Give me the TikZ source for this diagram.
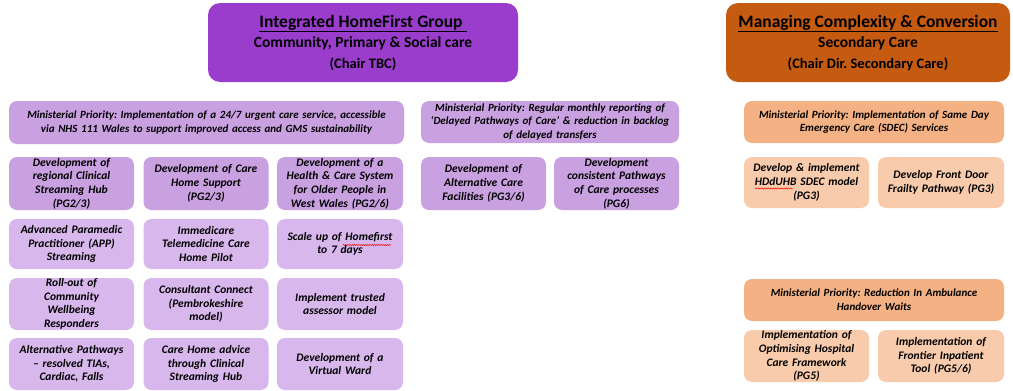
\documentclass[tikz,border=0pt]{standalone}
\usepackage{fontspec}
\usetikzlibrary{decorations.pathmorphing}
\setmainfont{Carlito}
\frenchspacing
\newcommand{\hdrA}[1]{{\fontsize{17.5}{20}\selectfont\underline{#1}}}
\newcommand{\hdrB}[1]{{\fontsize{15.5}{20}\selectfont #1}}
\newcommand{\hdrC}[1]{{\fontsize{14.5}{20}\selectfont #1}}
\begin{document}
\begin{tikzpicture}[x=1pt,y=-1pt,
  base/.style={align=center, inner sep=0pt, text=black},
  hdr/.style={base, rounded corners=12pt, minimum height=79pt,
    font=\bfseries\fontsize{15.5}{20.5}\selectfont},
  mp/.style={base, rounded corners=8pt, minimum height=42pt,
    font=\bfseries\itshape\fontsize{11}{13.7}\selectfont},
  tile/.style={base, rounded corners=8pt, minimum width=125pt,
    text width=122pt, font=\bfseries\itshape\fontsize{11.5}{13.7}\selectfont},
  squiggle/.style={draw=red, line width=0.45pt, decorate,
    decoration={snake, amplitude=0.6pt, segment length=2.2pt}},
  hpurple/.style={fill=hfPurple},
  mpurple/.style={fill=mpPurple},
  lpurple/.style={fill=ltPurple},
  horange/.style={fill=hdOrange},
  morange/.style={fill=mpOrange},
  lorange/.style={fill=ltOrange}]
\definecolor{hfPurple}{RGB}{155,61,204}
\definecolor{mpPurple}{RGB}{201,160,224}
\definecolor{ltPurple}{RGB}{215,183,236}
\definecolor{hdOrange}{RGB}{197,90,17}
\definecolor{mpOrange}{RGB}{244,177,131}
\definecolor{ltOrange}{RGB}{248,203,173}
\useasboundingbox (0,0) rectangle (1013,391);

% group headers
\node[hdr, hpurple, minimum width=310pt] (hf) at (363,42.5)
  {\hdrA{Integrated HomeFirst Group\ }\\
   \hdrB{Community, Primary \& Social care}\\
   \hdrC{(Chair TBC)}};
\node[hdr, horange, minimum width=284pt] (mc) at (868,42.5)
  {\hdrA{Managing Complexity \& Conversion}\\
   \hdrB{Secondary Care}\\
   \hdrC{(Chair Dir. Secondary Care)}};

% ministerial priorities
\node[mp, mpurple, minimum width=395pt, minimum height=43pt, text width=390pt] (mp1) at (206.5,122.5)
  {Ministerial Priority: Implementation of a 24/7 urgent care service, accessible\\
   via NHS 111 Wales to support improved access and GMS sustainability};
\node[mp, mpurple, minimum width=258pt, text width=255pt] (mp2) at (550,122)
  {Ministerial Priority: Regular monthly reporting of\\
   `Delayed Pathways of Care' \& reduction in backlog\\ of delayed transfers};
\node[mp, morange, minimum width=260pt, text width=255pt] (mp3) at (874,122)
  {Ministerial Priority: Implementation of Same Day\\ Emergency Care (SDEC) Services};
\node[mp, morange, minimum width=260pt, text width=255pt] (mp4) at (874,300)
  {Ministerial Priority: Reduction In Ambulance\\ Handover Waits};

% urgent care tiles
\node[tile, mpurple, minimum height=53pt] (a1) at (71.5,183.5)
  {Development of\\ regional Clinical\\ Streaming Hub\\ (PG2/3)};
\node[tile, mpurple, minimum height=53pt] (a2) at (206,183.5)
  {Development of Care\\ Home Support\\ (PG2/3)};
\node[tile, mpurple, minimum height=53pt, minimum width=126pt] (a3) at (340,183.5)
  {Development of a\\ Health \& Care System\\ for Older People in\\ West Wales (PG2/6)};
\node[tile, lpurple, minimum height=50pt] (b1) at (71.5,244)
  {Advanced Paramedic\\ Practitioner (APP)\\ Streaming};
\node[tile, lpurple, minimum height=50pt] (b2) at (206,244)
  {Immedicare\\ Telemedicine Care\\ Home Pilot};
\node[tile, lpurple, minimum height=50pt, minimum width=126pt] (b3) at (340,244)
  {Scale up of Homefirst\\ to 7 days};
\node[tile, lpurple, minimum height=52pt] (c1) at (71.5,304)
  {Roll-out of\\ Community\\ Wellbeing\\ Responders};
\node[tile, lpurple, minimum height=52pt] (c2) at (206,304)
  {Consultant Connect\\ (Pembrokeshire\\ model)};
\node[tile, lpurple, minimum height=52pt, minimum width=126pt] (c3) at (340,304)
  {Implement trusted\\ assessor model};
\node[tile, lpurple, minimum height=52pt] (d1) at (71.5,364)
  {Alternative Pathways\\ -- resolved TIAs,\\ Cardiac, Falls};
\node[tile, lpurple, minimum height=52pt] (d2) at (206,364)
  {Care Home advice\\ through Clinical\\ Streaming Hub};
\node[tile, lpurple, minimum height=52pt, minimum width=126pt] (d3) at (340,364)
  {Development of a\\ Virtual Ward};

% delayed pathways tiles
\node[tile, mpurple, minimum height=53pt] (e1) at (483.5,183.5)
  {Development of\\ Alternative Care\\ Facilities (PG3/6)};
\node[tile, mpurple, minimum height=53pt] (e2) at (616.5,183.5)
  {Development\\ consistent Pathways\\ of Care processes\\ (PG6)};

% secondary care tiles
\node[tile, lorange, minimum height=51pt] (f1) at (806.5,182.5)
  {Develop \& implement\\ HDdUHB SDEC model\\ (PG3)};
\node[tile, lorange, minimum height=51pt, minimum width=126pt] (f2) at (941,182.5)
  {Develop Front Door\\ Frailty Pathway (PG3)};
\node[tile, lorange, minimum height=52pt] (g1) at (806.5,356)
  {Implementation of\\ Optimising Hospital\\ Care Framework\\ (PG5)};
\node[tile, lorange, minimum height=52pt, minimum width=126pt] (g2) at (941,356)
  {Implementation of\\ Frontier Inpatient\\ Tool (PG5/6)};

% spell-check marks under flagged words
\path[squiggle] (343,245) -- (391,245);
\path[squiggle] (755,188.5) -- (793,188.5);
\end{tikzpicture}
\end{document}
